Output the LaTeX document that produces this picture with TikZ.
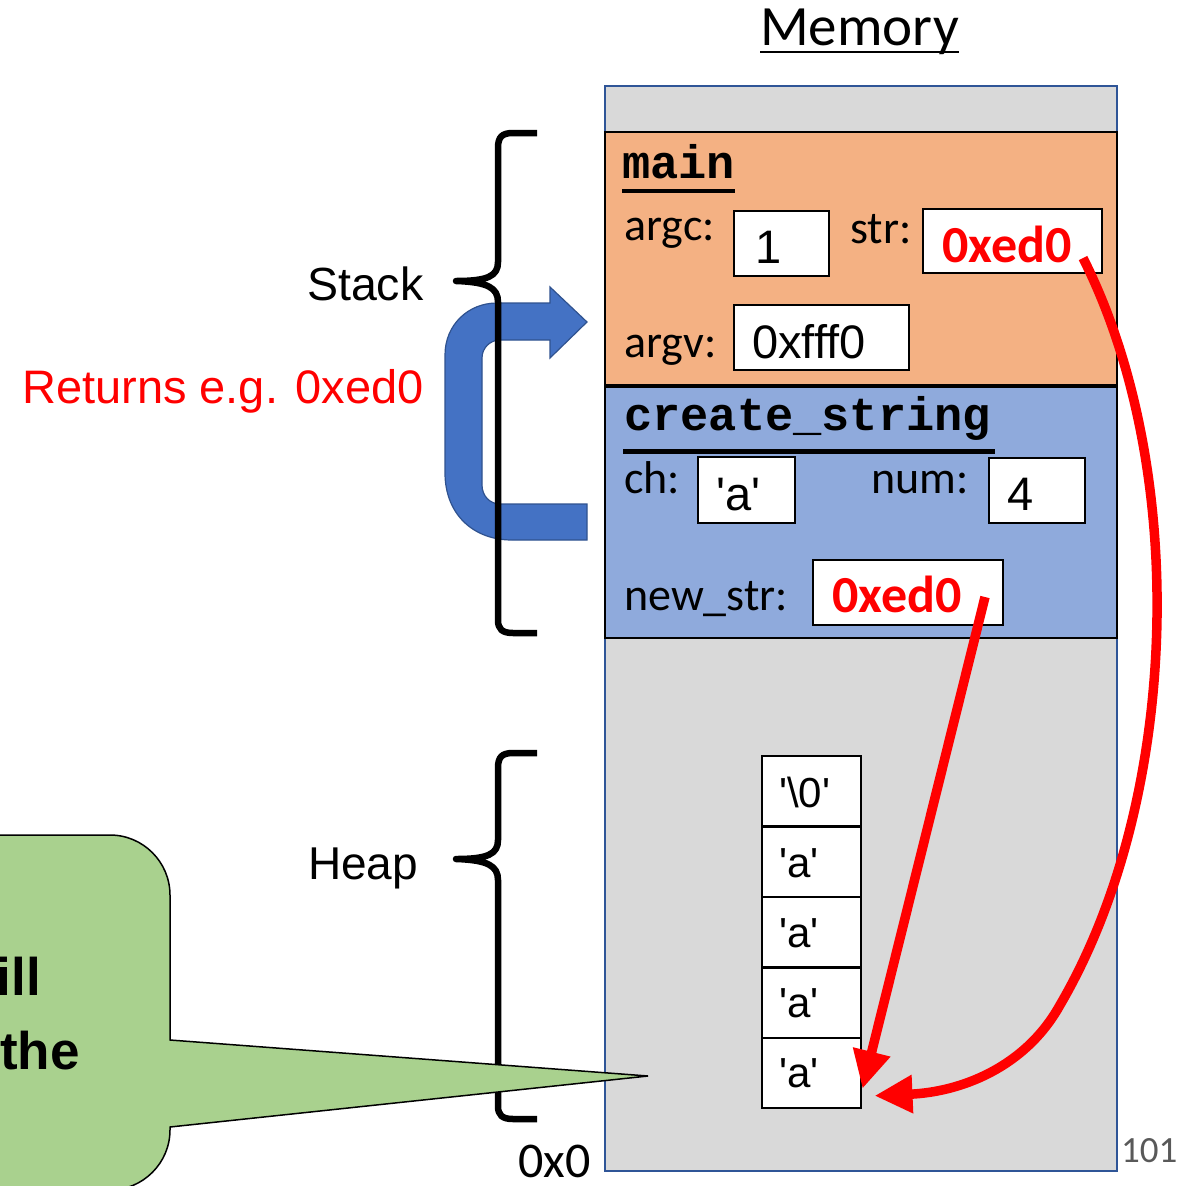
\documentclass[tikz,border=0pt]{standalone}
\usepackage{fontspec}
\setmainfont{Liberation Sans}
\newfontfamily\arialfont{Liberation Sans}[Ligatures=TeXOff]
\newfontfamily\calfont{Carlito}[Ligatures=TeXOff]
\newfontfamily\monofont{Liberation Mono}
\usetikzlibrary{arrows.meta}
\definecolor{memgray}{HTML}{D9D9D9}
\definecolor{memblue}{HTML}{2F5597}
\definecolor{mainorange}{HTML}{F4B183}
\definecolor{csblue}{HTML}{8FAADC}
\definecolor{bubgreen}{HTML}{A9D18E}
\definecolor{arrblue}{HTML}{4472C4}
\definecolor{arrblueborder}{HTML}{2F528F}
\definecolor{pagegray}{HTML}{595959}
\newcommand\fsz[1]{\fontsize{#1pt}{#1pt}\selectfont}
\begin{document}
\begin{tikzpicture}[x=1pt,y=-1pt,
  txt/.style={inner sep=0pt, anchor=base west},
  lbl/.style={txt, font=\calfont\fsz{46}},
  val/.style={txt, font=\arialfont\fsz{47}},
  redval/.style={txt, font=\calfont\bfseries\fsz{52}, text=red},
  cellval/.style={txt, font=\arialfont\fsz{42}},
  valbox/.style={draw=black, line width=1.5pt, fill=white, anchor=north west, inner sep=0pt},
  framebox/.style={draw=black, line width=1.5pt, anchor=north west, inner sep=0pt, minimum width=512pt},
  bracestyle/.style={draw=black, line width=6.5pt, line join=round},
  redarrow/.style={draw=red, line width=9.5pt, -{Triangle[length=38pt,width=36pt]}}]
\useasboundingbox (0,0) rectangle (1183,1186);
\clip (0,0) rectangle (1183,1186);

% memory column
\node[draw=memblue, fill=memgray, line width=2pt, minimum width=512pt, minimum height=1085pt,
      anchor=north west, inner sep=0pt] (mem) at (604,85) {};
\node[framebox, fill=mainorange, minimum height=253pt] (mainframe) at (604,131) {};
\node[framebox, fill=csblue, minimum height=251pt] (csframe) at (604,386) {};

\node[txt, font=\calfont\fsz{57}] (memtitle) at (760,45) {Memory};
\draw[line width=2.5pt] ([yshift=-7pt]memtitle.base west) -- ([yshift=-7pt]memtitle.base east);

% main frame
\node[txt, font=\monofont\bfseries\fsz{47}] (mainlbl) at (622,178) {main};
\draw[line width=4.5pt] ([yshift=-13pt]mainlbl.base west) -- ([yshift=-13pt]mainlbl.base east);
\node[lbl] (argclbl) at (624,240) {argc:};
\node[valbox, minimum width=95pt, minimum height=65pt] (argcbox) at (733,210) {};
\node[val] (argcval) at (755,263) {1};
\node[lbl] (strlbl) at (850,243) {str:};
\node[valbox, minimum width=179pt, minimum height=64pt] (strbox) at (922,208) {};
\node[redval] (strval) at (942,262) {0xed0};
\node[lbl] (argvlbl) at (624,357) {argv:};
\node[valbox, minimum width=175pt, minimum height=65pt] (argvbox) at (733,304) {};
\node[val] (argvval) at (752,358) {0xfff0};

% create_string frame
\node[txt, font=\monofont\bfseries\fsz{47}] (cslbl) at (624,430) {create\_string};
\draw[line width=5pt] ([xshift=-1pt,yshift=-21pt]cslbl.base west) -- ([xshift=4pt,yshift=-21pt]cslbl.base east);
\node[lbl] (chlbl) at (624,493) {ch:};
\node[valbox, minimum width=97pt, minimum height=66pt] (chbox) at (697,456) {};
\node[val] (chval) at (716,510) {'a'};
\node[lbl] (numlbl) at (871,493) {num:};
\node[valbox, minimum width=96pt, minimum height=65pt] (numbox) at (988,457) {};
\node[val] (numval) at (1007,510) {4};
\node[lbl] (newstrlbl) at (624,610) {new\_str:};
\node[valbox, minimum width=190pt, minimum height=65pt] (newstrbox) at (812,559) {};
\node[redval] (newstrval) at (832,612) {0xed0};

% heap cells
\foreach \i/\y in {1/755,2/826,3/896,4/967,5/1037}{
  \node[valbox, minimum width=99pt, minimum height=70pt] (c\i) at (761,\y) {};
}
\node[cellval] (t1) at (779,807) {'\textbackslash0'};
\node[cellval] (t2) at (779,877) {'a'};
\node[cellval] (t3) at (779,947) {'a'};
\node[cellval] (t4) at (779,1017) {'a'};
\node[cellval] (t5) at (779,1087) {'a'};

% blue return arrow
\draw[fill=arrblue, draw=arrblueborder, line width=1.2pt]
  (587,540) -- (512,540) .. controls (472,540) and (445,513) .. (445,473)
  -- (445,355) .. controls (445,325) and (468,303) .. (497,303)
  -- (550,303) -- (550,287) -- (587,322) -- (550,358) -- (550,340)
  -- (500,340) .. controls (490,340) and (482,348) .. (482,358)
  -- (482,485) .. controls (482,496) and (490,504) .. (500,504)
  -- (587,504) -- cycle;

% braces
\draw[bracestyle] (537,133) -- (513,133) .. controls (502,133) and (498,137) .. (498,148)
  -- (498,262) .. controls (498,276) and (488,281) .. (456,281)
  .. controls (488,282) and (498,288) .. (498,302)
  -- (498,620) .. controls (498,629) and (502,633) .. (513,633) -- (537,633);
\draw[bracestyle] (537,753) -- (513,753) .. controls (502,753) and (498,757) .. (498,768)
  -- (498,840) .. controls (498,854) and (488,859) .. (456,859)
  .. controls (488,860) and (498,866) .. (498,880)
  -- (498,1106) .. controls (498,1115) and (502,1119) .. (513,1119) -- (537,1119);

% left labels
\node[txt, font=\arialfont\fsz{46.5}] (stacklbl) at (307,300) {Stack};
\node[txt, font=\arialfont\fsz{46}] (heaplbl) at (308,879) {Heap};
\node[txt, font=\arialfont\fsz{47}, text=red] (retlbl) at (22,403) {Returns e.g. 0xed0};
\node[txt, font=\calfont\fsz{50}] (zerolbl) at (518,1177) {0x0};
\node[txt, font=\calfont\fsz{37}, text=pagegray] (pagenum) at (1121,1162) {101};

% speech bubble
\draw[fill=bubgreen, line width=1.5pt]
  (-100,835) -- (110,835) .. controls (143,835) and (170,862) .. (170,895)
  -- (170,1040) -- (648,1076) -- (170,1127)
  -- (170,1130) .. controls (170,1163) and (143,1190) .. (110,1190)
  -- (-100,1190) -- cycle;
\node[inner sep=0pt, anchor=base east, font=\bfseries\fsz{53}] (bub1) at (41,995) {ill};
\node[inner sep=0pt, anchor=base east, font=\bfseries\fsz{53}] (bub2) at (80,1069) {the};

% red pointer arrows
\coordinate (p1) at (985,597);
\coordinate (p2) at (1083,258);
\draw[redarrow] (p1) -- ([xshift=1pt,yshift=-16pt]c5.east);
\draw[redarrow] (p2) .. controls (1190,470) and (1180,800) .. (1060,1005)
  .. controls (1025,1068) and (960,1092) .. ([xshift=13pt,yshift=-23pt]c5.east);
\end{tikzpicture}
\end{document}
